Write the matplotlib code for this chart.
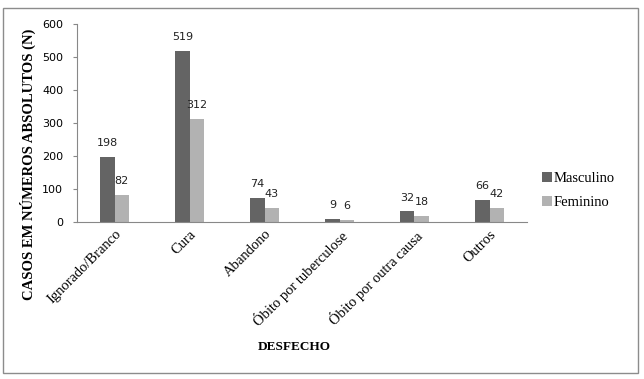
import numpy as np
import matplotlib.pyplot as plt
from matplotlib.patches import Rectangle

# dados do grafico
categorias = ['Ignorado/Branco', 'Cura', 'Abandono', 'Óbito por tuberculose',
              'Óbito por outra causa', 'Outros']
masculino = [198, 519, 74, 9, 32, 66]
feminino = [82, 312, 43, 6, 18, 42]
yticks = [0, 100, 200, 300, 400, 500, 600]

cor_masc = '#646464'
cor_fem = '#b2b2b2'
serif = ['Liberation Serif', 'DejaVu Serif']

W, H = 644, 379
fig = plt.figure(figsize=(W / 100, H / 100), dpi=100)

# moldura externa
fig.patches.append(Rectangle((3 / W, 1 - 373 / H), 635 / W, 365 / H,
                             transform=fig.transFigure, fill=False,
                             edgecolor='#8c8c8c', linewidth=1.0))

ax = fig.add_axes([77 / W, 1 - 222 / H, 450 / W, 198 / H])

x = np.arange(len(categorias))
w = 0.19
b1 = ax.bar(x - w / 2, masculino, w, color=cor_masc, label='Masculino')
b2 = ax.bar(x + w / 2, feminino, w, color=cor_fem, label='Feminino')

for barras in (b1, b2):
    for r in barras:
        ax.annotate(str(int(r.get_height())),
                    (r.get_x() + r.get_width() / 2, r.get_height()),
                    xytext=(0, 10), textcoords='offset points',
                    ha='center', va='center', fontsize=8, color='#222222')

ax.set_xlim(-0.5, len(categorias) - 0.5)
ax.set_ylim(0, 600)
ax.set_yticks(yticks)
ax.tick_params(axis='y', labelsize=8, length=3, color='#888888', pad=7)
ax.set_xticks(x)
ax.set_xticklabels(categorias, rotation=45, ha='right', rotation_mode='anchor',
                   fontsize=10.5, family=serif)
ax.tick_params(axis='x', length=0, pad=4)

for s in ['top', 'right']:
    ax.spines[s].set_visible(False)
for s in ['left', 'bottom']:
    ax.spines[s].set_color('#888888')

ax.set_ylabel('CASOS EM NÚMEROS ABSOLUTOS (N)', family=serif, fontweight='bold',
              fontsize=10.5)
ax.yaxis.set_label_coords(-0.092, 0.29)
ax.set_xlabel('DESFECHO', family=serif, fontweight='bold', fontsize=9.5)
ax.xaxis.set_label_coords(0.482, -0.60)

fig.legend(handles=[b1, b2], loc='center left',
           bbox_to_anchor=(529 / W, 1 - 190.5 / H), frameon=False,
           prop={'family': serif, 'size': 10.5},
           handlelength=0.7, handleheight=0.7, handletextpad=0.1,
           labelspacing=0.75)

fig.savefig('out.png', dpi=100)
